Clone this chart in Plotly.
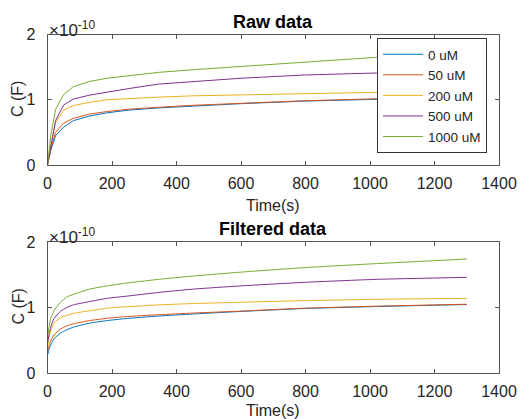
import plotly.graph_objects as go

W, H = 521, 419

names = ["0 uM", "50 uM", "200 uM", "500 uM", "1000 uM"]
colors = ["#0072BD", "#D95319", "#EDB120", "#7E2F8E", "#77AC30"]
unit = 1e-10

# Raw data (C in units of 1e-10 F)
raw_t = [0, 10, 25, 50, 80, 130, 185, 250, 345, 450, 600, 800, 1020, 1300]
raw_0 = [0, 0.22, 0.45, 0.58, 0.68, 0.75, 0.80, 0.84, 0.875, 0.905, 0.94, 0.98, 1.01, 1.04]
raw_50 = [0, 0.25, 0.50, 0.64, 0.715, 0.78, 0.82, 0.855, 0.885, 0.915, 0.945, 0.985, 1.015, 1.05]
raw_200 = [0, 0.30, 0.65, 0.84, 0.91, 0.96, 1.00, 1.02, 1.04, 1.06, 1.075, 1.10, 1.12, 1.14]
raw_500 = [0, 0.30, 0.68, 0.92, 1.01, 1.07, 1.12, 1.17, 1.24, 1.28, 1.33, 1.38, 1.41, 1.46]
raw_1000 = [0, 0.45, 0.85, 1.08, 1.20, 1.28, 1.33, 1.37, 1.42, 1.46, 1.51, 1.58, 1.65, 1.72]

# Filtered data (C in units of 1e-10 F)
filt_t = [0, 5, 10, 20, 40, 60, 80, 130, 185, 240, 345, 450, 600, 800, 1020, 1300]
filt_0 = [0.27, 0.36, 0.43, 0.52, 0.61, 0.66, 0.70, 0.76, 0.80, 0.83, 0.87, 0.90, 0.94, 0.985, 1.015, 1.045]
filt_50 = [0.32, 0.42, 0.49, 0.58, 0.67, 0.72, 0.75, 0.80, 0.835, 0.86, 0.89, 0.915, 0.945, 0.99, 1.02, 1.05]
filt_200 = [0.38, 0.55, 0.64, 0.76, 0.84, 0.88, 0.91, 0.95, 0.99, 1.01, 1.04, 1.06, 1.08, 1.105, 1.125, 1.14]
filt_500 = [0.45, 0.60, 0.70, 0.83, 0.94, 1.00, 1.04, 1.09, 1.14, 1.17, 1.23, 1.28, 1.33, 1.385, 1.43, 1.46]
filt_1000 = [0.53, 0.72, 0.83, 0.95, 1.08, 1.16, 1.20, 1.28, 1.33, 1.37, 1.43, 1.48, 1.54, 1.61, 1.67, 1.74]

x_ticks = [0, 200, 400, 600, 800, 1000, 1200, 1400]
y_ticks = [0, 1, 2]
y_tick_text = ["0", "1", "2"]

raw_series = [raw_0, raw_50, raw_200, raw_500, raw_1000]
filt_series = [filt_0, filt_50, filt_200, filt_500, filt_1000]

FONT = "Liberation Sans, Arial, sans-serif"
AX = "#555555"
TXT = "#262626"

fig = go.Figure()
for name, col, ys in zip(names, colors, raw_series):
    fig.add_trace(go.Scatter(x=raw_t, y=[v * unit for v in ys], mode="lines", name=name,
                             line=dict(color=col, width=1), xaxis="x", yaxis="y"))
for name, col, ys in zip(names, colors, filt_series):
    fig.add_trace(go.Scatter(x=filt_t, y=[v * unit for v in ys], mode="lines", name=name,
                             line=dict(color=col, width=1, shape="spline", smoothing=0.5),
                             xaxis="x2", yaxis="y2", showlegend=False))

def px(x):
    return x / W

def py(y):
    return 1 - y / H

xd = [px(47.5), px(499)]
top_dom = [py(165), py(34.5)]
bot_dom = [py(373), py(242)]

common_x = dict(range=[0, 1400], tickvals=x_ticks, ticks="inside", ticklen=4, tickcolor=AX,
                showline=True, linecolor=AX, linewidth=1, mirror="ticks", showgrid=False,
                zeroline=False, tickfont=dict(family=FONT, size=16, color=TXT), domain=xd,
                ticklabelstandoff=4)
common_y = dict(range=[0, 2 * unit], tickvals=[v * unit for v in y_ticks], ticktext=y_tick_text,
                ticks="inside", ticklen=4, tickcolor=AX, showline=True, linecolor=AX, linewidth=1,
                mirror="ticks", showgrid=False, zeroline=False,
                tickfont=dict(family=FONT, size=16, color=TXT), ticklabelstandoff=8)

fig.update_layout(
    width=W, height=H, autosize=False, margin=dict(l=0, r=0, t=0, b=0, pad=0, autoexpand=False),
    paper_bgcolor="white", plot_bgcolor="white",
    xaxis=dict(**common_x, anchor="y"),
    yaxis=dict(**common_y, domain=top_dom, anchor="x"),
    xaxis2=dict(**common_x, anchor="y2"),
    yaxis2=dict(**common_y, domain=bot_dom, anchor="x2"),
    showlegend=True,
    legend=dict(x=px(377), y=py(38), xanchor="left", yanchor="top",
                bgcolor="white", bordercolor="#333333", borderwidth=1,
                font=dict(family=FONT, size=13.5, color=TXT), itemwidth=40,
                tracegroupgap=0),
)

ann = []
for dy in [0, 207.5]:
    ann.append(dict(x=px(273), y=py(21.5 + dy), xref="paper", yref="paper", text="<b>%s</b>" % ("Raw data" if dy == 0 else "Filtered data"),
                    showarrow=False, xanchor="center", yanchor="middle",
                    font=dict(family=FONT, size=18, color="black")))
    ann.append(dict(x=px(273), y=py(min(205 + dy, 410)), xref="paper", yref="paper", text="Time(s)",
                    showarrow=False, xanchor="center", yanchor="middle",
                    font=dict(family=FONT, size=16, color=TXT)))
    ann.append(dict(x=px(17.5), y=py(99.5 + dy), xref="paper", yref="paper", text="C (F)",
                    showarrow=False, xanchor="center", yanchor="middle", textangle=-90,
                    font=dict(family=FONT, size=16, color=TXT)))
    ann.append(dict(x=px(47), y=py(28.5 + dy), xref="paper", yref="paper", text="×10<sup>-10</sup>",
                    showarrow=False, xanchor="left", yanchor="middle",
                    font=dict(family=FONT, size=17, color=TXT)))
fig.update_layout(annotations=ann)

fig.write_html("out.html", config={"responsive": False, "displayModeBar": False},
               post_script="document.body.style.margin='0';document.body.style.overflow='hidden';")
